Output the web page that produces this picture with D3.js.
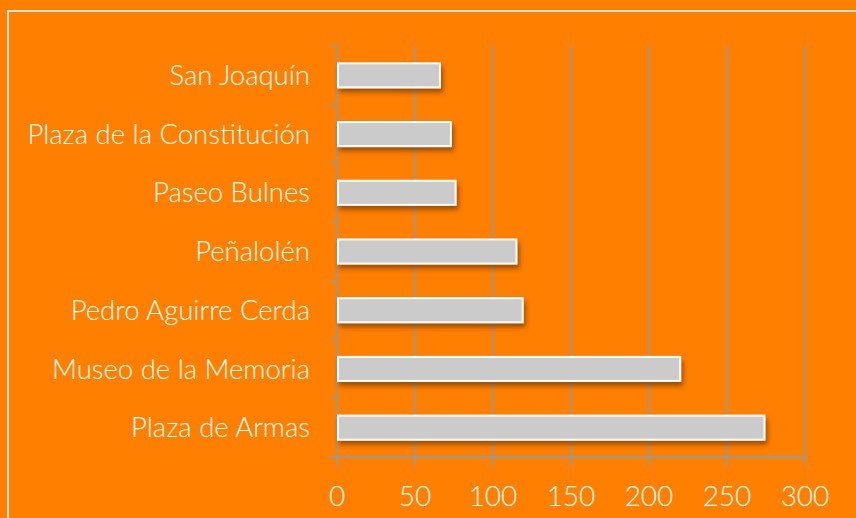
<!DOCTYPE html>
<html>
<head>
<meta charset="utf-8">
<script src="https://cdn.jsdelivr.net/npm/d3@7/dist/d3.min.js"></script>
<style>
  html, body { margin: 0; padding: 0; background: #FF7F00; }
  svg { display: block; }
</style>
</head>
<body>
<script>
const categories = ["San Joaquín", "Plaza de la Constitución", "Paseo Bulnes", "Peñalolén", "Pedro Aguirre Cerda", "Museo de la Memoria", "Plaza de Armas"];
const values = [66, 73, 76, 115, 119, 220, 274];
const tickValues = [0, 50, 100, 150, 200, 250, 300];

const W = 856, H = 518;
const svg = d3.select("body").append("svg").attr("width", W).attr("height", H);

svg.append("rect").attr("width", W).attr("height", H).attr("fill", "#FF7F00");

// frame
svg.append("path")
  .attr("d", `M8,${H + 5} L8,11 L${W + 5},11`)
  .attr("fill", "none").attr("stroke", "#EDE6DE").attr("stroke-width", 2);

const defs = svg.append("defs");
const f = defs.append("filter").attr("id", "shadow").attr("x", "-10%").attr("y", "-50%").attr("width", "130%").attr("height", "250%");
f.append("feDropShadow").attr("dx", 2).attr("dy", 4).attr("stdDeviation", 2.5)
  .attr("flood-color", "#5a2a00").attr("flood-opacity", 0.6);

const x = d3.scaleLinear().domain([0, 300]).range([337, 805]);
const y = d3.scaleBand().domain(categories).range([46, 457]).paddingInner(0.59).paddingOuter(0.295);
const step = y.step();
const plotTop = 46, plotBottom = 457;

const gridColor = "#9A9894";

// gridlines (extend to tick marks below axis)
svg.append("g").selectAll("line").data(tickValues).join("line")
  .attr("x1", d => x(d)).attr("x2", d => x(d))
  .attr("y1", plotTop).attr("y2", plotBottom + 9)
  .attr("stroke", gridColor).attr("stroke-width", 1.8);

// bottom axis line
svg.append("line").attr("x1", 330).attr("x2", x(300)).attr("y1", plotBottom).attr("y2", plotBottom)
  .attr("stroke", gridColor).attr("stroke-width", 1.8);

// y-axis boundary ticks
const bounds = d3.range(categories.length + 1).map(i => plotTop + i * step);
svg.append("g").selectAll("line").data(bounds).join("line")
  .attr("x1", 330).attr("x2", x(0)).attr("y1", d => d).attr("y2", d => d)
  .attr("stroke", gridColor).attr("stroke-width", 1.8);

// bars
svg.append("g").selectAll("rect").data(categories).join("rect")
  .attr("x", x(0) + 1)
  .attr("y", d => y(d))
  .attr("width", (d, i) => x(values[i]) - x(0) - 1)
  .attr("height", y.bandwidth())
  .attr("fill", "#CBCBCB")
  .attr("stroke", "#FFFFFF").attr("stroke-width", 2)
  .attr("filter", "url(#shadow)");

const font = "Lato, 'Noto Sans', sans-serif";

// category labels
svg.append("g").selectAll("text").data(categories).join("text")
  .attr("x", 310)
  .attr("y", d => y(d) + y.bandwidth() / 2)
  .attr("dy", "0.35em")
  .attr("text-anchor", "end")
  .attr("fill", "#FFFFFF")
  .style("font-family", font).style("font-size", "27.5px").style("font-weight", 300)
  .text(d => d);

// tick labels
svg.append("g").selectAll("text").data(tickValues).join("text")
  .attr("x", d => x(d))
  .attr("y", 496)
  .attr("dy", "0.35em")
  .attr("text-anchor", "middle")
  .attr("fill", "#FFFFFF")
  .style("font-family", font).style("font-size", "28px").style("font-weight", 300)
  .text(d => d);
</script>
</body>
</html>
